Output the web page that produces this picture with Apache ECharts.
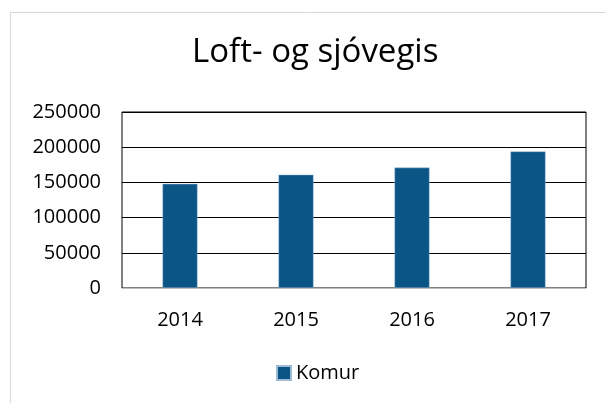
<!DOCTYPE html>
<html>
<head>
<meta charset="utf-8">
<script src="https://cdn.jsdelivr.net/npm/echarts@6/dist/echarts.min.js"></script>
<style>
  html, body { margin: 0; padding: 0; background: #fff; }
  #chart { width: 606px; height: 403px; }
</style>
</head>
<body>
<div id="chart"></div>
<script>
// ár og fjöldi koma
var years = ['2014', '2015', '2016', '2017'];
var komur = [148000, 161000, 171000, 194000];
var yTicks = [0, 50000, 100000, 150000, 200000, 250000];

var myChart = echarts.init(document.getElementById('chart'));
var font = 'Open Sans';

option = {
    animation: false,
    graphic: [{
        type: 'rect',
        shape: { x: 10.5, y: 12.5, width: 620, height: 420 },
        style: { fill: 'none', stroke: '#d9d9d9', lineWidth: 1 }
    }],
    title: {
        text: 'Loft- og sjóvegis',
        left: 192,
        top: 36,
        padding: 0,
        textStyle: { fontFamily: font, fontSize: 33, fontWeight: 'normal', color: '#000' }
    },
    legend: {
        data: ['Komur'],
        top: 363,
        left: 276,
        padding: 0,
        icon: 'rect',
        itemWidth: 14,
        itemHeight: 14,
        itemGap: 4,
        textStyle: { fontFamily: font, fontSize: 20, color: '#000' }
    },
    grid: {
        left: 122,
        right: 20,
        top: 112,
        bottom: 115,
        show: true,
        borderColor: '#000',
        borderWidth: 1
    },
    xAxis: {
        type: 'category',
        data: years,
        axisTick: { show: false },
        axisLine: { lineStyle: { color: '#bfbfbf' } },
        axisLabel: { fontFamily: font, fontSize: 20, color: '#000', margin: 22 }
    },
    yAxis: {
        type: 'value',
        min: yTicks[0],
        max: yTicks[yTicks.length - 1],
        interval: 50000,
        axisLabel: {
            fontFamily: font, fontSize: 20, color: '#000', margin: 21,
            formatter: function (v) { return String(v); }
        },
        splitLine: { lineStyle: { color: '#000' } }
    },
    series: [{
        name: 'Komur',
        type: 'bar',
        data: komur,
        barWidth: 35,
        itemStyle: { color: '#0b5486', borderColor: '#9fbcd6', borderWidth: 0.5 }
    }]
};

myChart.setOption(option);
</script>
</body>
</html>
